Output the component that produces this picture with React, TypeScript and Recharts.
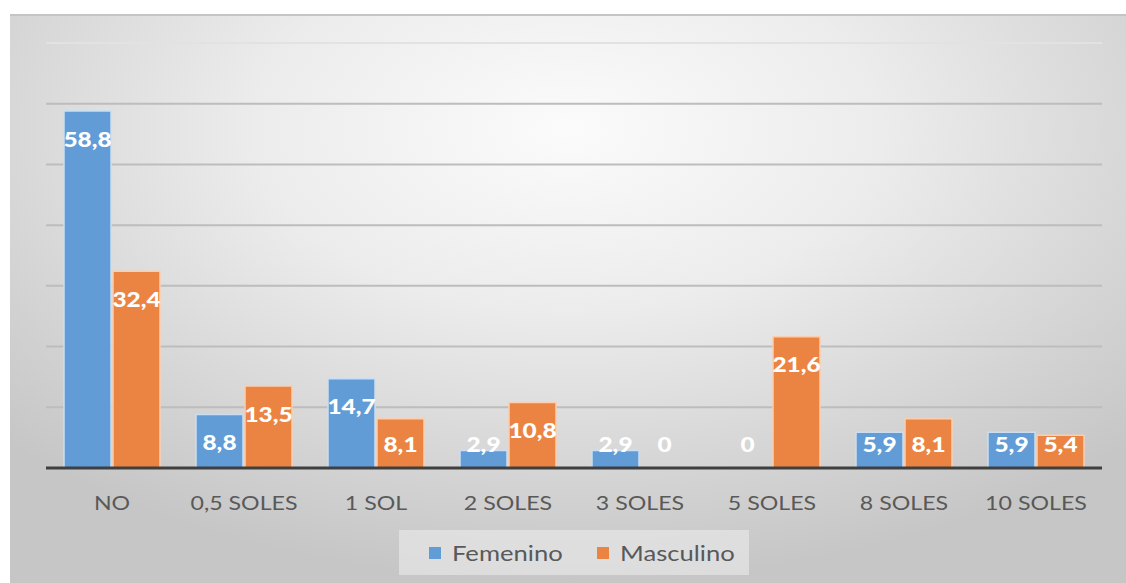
import * as React from "react";
import {
  BarChart,
  Bar,
  XAxis,
  YAxis,
  CartesianGrid,
  Legend,
  LabelList,
  ReferenceLine,
  Rectangle,
} from "recharts";

const categorias = ["NO", "0,5 SOLES", "1 SOL", "2 SOLES", "3 SOLES", "5 SOLES", "8 SOLES", "10 SOLES"];
const femenino = [58.8, 8.8, 14.7, 2.9, 2.9, 0, 5.9, 5.9];
const masculino = [32.4, 13.5, 8.1, 10.8, 0, 21.6, 8.1, 5.4];
const gridValues = [10, 20, 30, 40, 50, 60];

const BLUE = "#619cd6";
const ORANGE = "#eb8442";
const FONT = "Lato, 'Open Sans', sans-serif";
const STRETCH = 1.22;

const data = categorias.map((c, i) => ({
  name: c,
  femenino: femenino[i],
  masculino: masculino[i],
}));

function fmt(v: number) {
  return String(v).replace(".", ",");
}

// zero values keep a 1px slot so their label still shows, but draw nothing
function makeShape(key: "femenino" | "masculino") {
  return (props: any) => {
    if (!props.payload || props.payload[key] === 0) return <g />;
    return <Rectangle {...props} />;
  };
}

// Excel style "inside end" label, clamped just above the axis for short bars
function BarValue(props: any) {
  const { x, y, width, height, value } = props;
  const base = y + height;
  const cy = Math.min(y + 28, base - 24);
  const cx = x + width / 2;
  return (
    <text
      transform={`translate(${cx},${cy}) scale(${STRETCH},1)`}
      textAnchor="middle"
      dominantBaseline="central"
      fill="#ffffff"
      fontFamily={FONT}
      fontWeight={900}
      fontSize={20}
    >
      {fmt(value)}
    </text>
  );
}

function CategoryTick(props: any) {
  const { x, y, payload } = props;
  return (
    <text
      transform={`translate(${x},${y + 35}) scale(${STRETCH},1)`}
      textAnchor="middle"
      dominantBaseline="central"
      fill="#595959"
      fontFamily={FONT}
      fontSize={19}
    >
      {payload.value}
    </text>
  );
}

function LegendBox() {
  const item = (color: string, label: string, width: number) => (
    <div style={{ display: "flex", alignItems: "center", width }}>
      <span style={{ width: 12, height: 12, background: color, marginRight: 11 }} />
      <span
        style={{
          display: "inline-block",
          transform: `scaleX(${STRETCH})`,
          transformOrigin: "left center",
          fontFamily: FONT,
          fontSize: 21,
          color: "#595959",
        }}
      >
        {label}
      </span>
    </div>
  );
  return (
    <div
      style={{
        width: 350,
        height: 45,
        margin: "0 auto",
        background: "rgba(238,238,238,0.55)",
        display: "flex",
        alignItems: "center",
        paddingLeft: 30,
        boxSizing: "border-box",
      }}
    >
      {item(BLUE, "Femenino", 168)}
      {item(ORANGE, "Masculino", 140)}
    </div>
  );
}

export default function App() {
  return (
    <div
      style={{
        position: "absolute",
        left: 10,
        top: 14,
        width: 1116,
        height: 569,
        borderTop: "2px solid #c4c4c4",
        boxSizing: "border-box",
        background:
          "radial-gradient(ellipse 70% 80% at 50% 20%, #fbfbfb 0%, #ececec 40%, #d2d2d2 80%, #c6c6c6 100%)",
      }}
    >
      <BarChart
        width={1116}
        height={567}
        data={data}
        barSize={47}
        barGap={2}
        margin={{ top: 27, right: 24, left: 36, bottom: 8 }}
      >
        <CartesianGrid
          vertical={false}
          horizontalValues={gridValues}
          stroke="#bdbdbd"
          strokeWidth={2}
        />
        <ReferenceLine y={70} stroke="#e2e2e2" strokeWidth={2} />
        <YAxis hide domain={[0, 70]} ticks={[0, 10, 20, 30, 40, 50, 60, 70]} />
        <XAxis
          dataKey="name"
          height={62}
          tickSize={0}
          tickMargin={0}
          tickLine={false}
          axisLine={{ stroke: "#3f3f3f", strokeWidth: 3 }}
          tick={<CategoryTick />}
          interval={0}
        />
        <Legend verticalAlign="bottom" height={45} content={() => <LegendBox />} />
        <Bar
          dataKey="femenino"
          name="Femenino"
          fill={BLUE}
          stroke="#c9def3"
          strokeWidth={1.5}
          minPointSize={1}
          shape={makeShape("femenino")}
          isAnimationActive={false}
        >
          <LabelList dataKey="femenino" content={<BarValue />} />
        </Bar>
        <Bar
          dataKey="masculino"
          name="Masculino"
          fill={ORANGE}
          stroke="#f8cfb2"
          strokeWidth={1.5}
          minPointSize={1}
          shape={makeShape("masculino")}
          isAnimationActive={false}
        >
          <LabelList dataKey="masculino" content={<BarValue />} />
        </Bar>
      </BarChart>
    </div>
  );
}
